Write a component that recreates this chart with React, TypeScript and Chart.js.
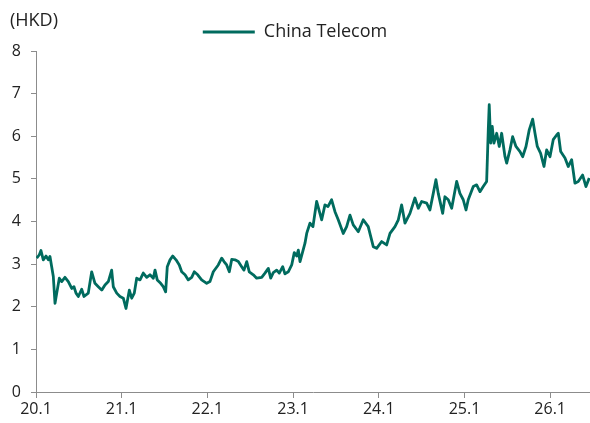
import React, { useEffect, useRef } from "react";
import { Chart, registerables } from "chart.js";

Chart.register(...registerables);

// Decimal years since 2020-01 (0 = 20.1)
const years = [
  0.008, 0.039, 0.058, 0.085, 0.117, 0.144, 0.163, 0.183, 0.202, 0.222, 0.242, 0.272, 0.3, 0.338, 0.377,
  0.417, 0.443, 0.467, 0.494, 0.533, 0.56, 0.61, 0.65, 0.688, 0.727, 0.767, 0.805, 0.844, 0.883, 0.902,
  0.942, 0.98, 1.019, 1.05, 1.089, 1.117, 1.147, 1.175, 1.214, 1.252, 1.292, 1.33, 1.369, 1.389, 1.415,
  1.455, 1.485, 1.513, 1.532, 1.564, 1.595, 1.634, 1.672, 1.7, 1.739, 1.777, 1.817, 1.847, 1.887, 1.933,
  1.992, 2.03, 2.069, 2.127, 2.167, 2.194, 2.225, 2.256, 2.284, 2.322, 2.361, 2.4, 2.427, 2.459, 2.489,
  2.536, 2.575, 2.634, 2.672, 2.711, 2.739, 2.769, 2.809, 2.839, 2.879, 2.905, 2.944, 2.984, 3.014, 3.042,
  3.061, 3.081, 3.139, 3.159, 3.197, 3.232, 3.275, 3.334, 3.372, 3.407, 3.45, 3.489, 3.527, 3.586, 3.625,
  3.664, 3.702, 3.761, 3.819, 3.877, 3.936, 3.975, 4.034, 4.092, 4.131, 4.189, 4.228, 4.267, 4.306, 4.364,
  4.422, 4.461, 4.501, 4.559, 4.597, 4.636, 4.667, 4.694, 4.746, 4.772, 4.811, 4.851, 4.909, 4.947, 4.986,
  5.018, 5.044, 5.103, 5.142, 5.181, 5.219, 5.259, 5.278, 5.289, 5.306, 5.324, 5.344, 5.376, 5.406, 5.434,
  5.473, 5.493, 5.531, 5.562, 5.601, 5.648, 5.679, 5.718, 5.756, 5.796, 5.823, 5.85, 5.889, 5.928, 5.959,
  5.998, 6.036, 6.076, 6.095, 6.123, 6.173, 6.211, 6.251, 6.289, 6.328, 6.379, 6.418, 6.456,
];

// China Telecom share price (HKD)
const prices = [
  3.14, 3.22, 3.32, 3.1, 3.19, 3.1, 3.18, 2.94, 2.71, 2.08, 2.32, 2.67, 2.59, 2.69, 2.59,
  2.43, 2.47, 2.32, 2.24, 2.41, 2.24, 2.32, 2.82, 2.55, 2.47, 2.39, 2.51, 2.59, 2.86, 2.47,
  2.32, 2.24, 2.2, 1.96, 2.39, 2.2, 2.32, 2.67, 2.63, 2.79, 2.69, 2.75, 2.67, 2.86, 2.63,
  2.55, 2.47, 2.35, 2.94, 3.1, 3.19, 3.1, 2.98, 2.82, 2.75, 2.63, 2.69, 2.82, 2.75, 2.63,
  2.55, 2.59, 2.82, 2.98, 3.14, 3.06, 2.98, 2.82, 3.11, 3.1, 3.06, 2.94, 2.86, 3.06, 2.82,
  2.75, 2.67, 2.69, 2.79, 2.9, 2.67, 2.8, 2.86, 2.79, 2.94, 2.77, 2.82, 2.98, 3.27, 3.19,
  3.33, 3.06, 3.49, 3.72, 3.96, 3.88, 4.47, 4.04, 4.39, 4.35, 4.51, 4.23, 4.04, 3.72, 3.88,
  4.15, 3.92, 3.76, 4.04, 3.88, 3.41, 3.37, 3.53, 3.45, 3.72, 3.88, 4.04, 4.39, 3.96, 4.19,
  4.55, 4.31, 4.47, 4.43, 4.27, 4.66, 4.98, 4.66, 4.19, 4.58, 4.51, 4.31, 4.94, 4.66, 4.51,
  4.27, 4.51, 4.82, 4.86, 4.7, 4.82, 4.94, 6.15, 6.74, 5.84, 6.23, 5.84, 6.07, 5.76, 6.07,
  5.52, 5.37, 5.68, 5.99, 5.76, 5.64, 5.52, 5.76, 6.15, 6.4, 6.07, 5.76, 5.6, 5.29, 5.68,
  5.52, 5.92, 6.03, 6.07, 5.64, 5.49, 5.29, 5.45, 4.9, 4.94, 5.09, 4.82, 5.02,
];

const tickYears = [0, 1, 2, 3, 4, 5, 6];
const tickLabels = ["20.1", "21.1", "22.1", "23.1", "24.1", "25.1", "26.1"];
const seriesName = "China Telecom";
const unitLabel = "(HKD)";

const FONT = "'Open Sans', 'Noto Sans', sans-serif";
const LINE_COLOR = "#006B5E";
const AXIS_COLOR = "#8c8c8c";
const TEXT_COLOR = "#222222";

export default function App() {
  const canvasRef = useRef<HTMLCanvasElement | null>(null);

  useEffect(() => {
    const canvas = canvasRef.current;
    if (!canvas) return;

    const unitPlugin = {
      id: "unitLabel",
      afterDraw(chart: any) {
        const ctx = chart.ctx;
        ctx.save();
        ctx.font = `18px ${FONT}`;
        ctx.fillStyle = TEXT_COLOR;
        ctx.textBaseline = "middle";
        ctx.textAlign = "left";
        ctx.fillText(unitLabel, 10, 21);
        ctx.restore();
      },
    };

    const chart = new Chart(canvas, {
      type: "line",
      data: {
        datasets: [
          {
            label: seriesName,
            data: years.map((x, i) => ({ x, y: prices[i] })),
            borderColor: LINE_COLOR,
            backgroundColor: LINE_COLOR,
            borderWidth: 2.8,
            borderJoinStyle: "round",
            pointRadius: 0,
            tension: 0,
          },
        ],
      },
      options: {
        responsive: false,
        animation: false,
        layout: { padding: { top: 13, left: 0, right: 0, bottom: 0 } },
        plugins: {
          tooltip: { enabled: false },
          legend: {
            display: true,
            position: "top",
            align: "center",
            labels: {
              boxWidth: 52,
              boxHeight: 3,
              padding: 10,
              color: TEXT_COLOR,
              font: { family: FONT, size: 18 },
              generateLabels: (c: any) =>
                Chart.defaults.plugins.legend.labels.generateLabels(c).map((item: any) => ({
                  ...item,
                  lineWidth: 0,
                  strokeStyle: LINE_COLOR,
                  fillStyle: LINE_COLOR,
                })),
            },
          },
        },
        scales: {
          x: {
            type: "linear",
            min: 0,
            max: 6.465,
            afterBuildTicks: (scale: any) => {
              scale.ticks = tickYears.map((v) => ({ value: v }));
            },
            afterFit: (scale: any) => {
              scale.height = 31;
            },
            ticks: {
              autoSkip: false,
              maxRotation: 0,
              padding: 2,
              color: TEXT_COLOR,
              font: { family: FONT, size: 16 },
              callback: (v: any) => {
                const idx = tickYears.indexOf(Number(v));
                return idx >= 0 ? tickLabels[idx] : "";
              },
            },
            grid: {
              drawOnChartArea: false,
              drawTicks: true,
              tickLength: 6,
              color: AXIS_COLOR,
            },
            border: { display: true, color: AXIS_COLOR, width: 1 },
          },
          y: {
            min: 0,
            max: 8,
            afterFit: (scale: any) => {
              scale.width = 36;
            },
            ticks: {
              stepSize: 1,
              padding: 10,
              color: TEXT_COLOR,
              font: { family: FONT, size: 16 },
            },
            grid: {
              drawOnChartArea: false,
              drawTicks: true,
              tickLength: 5,
              color: AXIS_COLOR,
            },
            border: { display: true, color: AXIS_COLOR, width: 1 },
          },
        },
      },
      plugins: [unitPlugin],
    });

    return () => chart.destroy();
  }, []);

  return (
    <div style={{ position: "absolute", left: 0, top: 0, width: 590, height: 423, background: "#fff" }}>
      <canvas ref={canvasRef} width={590} height={423} style={{ display: "block" }} />
    </div>
  );
}
